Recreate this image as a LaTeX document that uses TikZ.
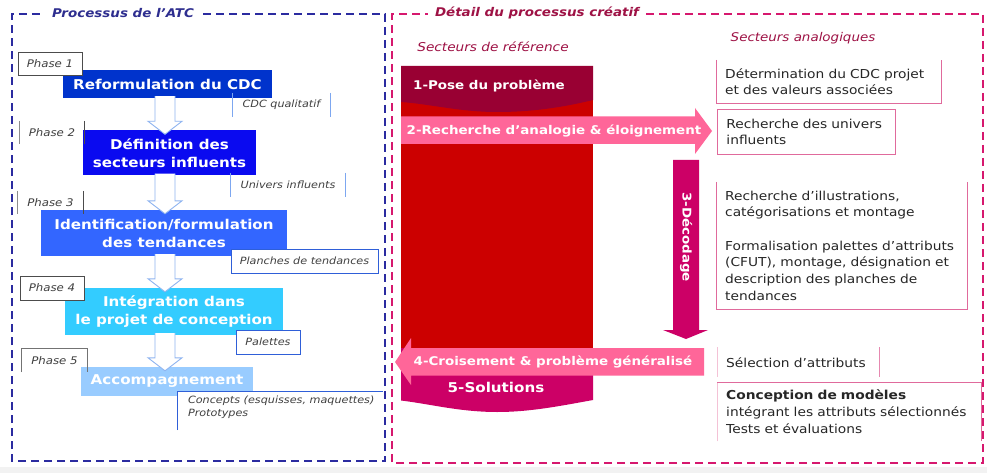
\documentclass[tikz,border=0pt]{standalone}
\usepackage{fontspec}
\setmainfont[FakeStretch=1.12]{DejaVu Sans}
\usetikzlibrary{calc}
\definecolor{atcnavy}{HTML}{2E2E8F}
\definecolor{atcborder}{HTML}{2B2BA0}
\definecolor{crebord}{HTML}{D6186E}
\definecolor{cretitle}{HTML}{9E1245}
\definecolor{cblue1}{HTML}{0033CC}
\definecolor{cblue2}{HTML}{0A0AF0}
\definecolor{cblue3}{HTML}{3366FF}
\definecolor{cblue4}{HTML}{33CCFF}
\definecolor{cblue5}{HTML}{99CCFF}
\definecolor{lblline}{HTML}{7DA7F0}
\definecolor{lblbox}{HTML}{2F5FD8}
\definecolor{hollow}{HTML}{8FB4F0}
\definecolor{cred}{HTML}{CC0000}
\definecolor{ccrim}{HTML}{990033}
\definecolor{cmag}{HTML}{CC0066}
\definecolor{cpink}{HTML}{FF6699}
\definecolor{rline}{HTML}{E06A9C}
\definecolor{rlight}{HTML}{F4C2D6}
\tikzset{
  phasetxt/.style={font=\itshape\fontsize{10.5}{12}\selectfont, text=black!75, inner sep=0pt},
  boxtitle/.style={font=\bfseries\fontsize{13.5}{18}\selectfont, text=white, align=center, inner sep=0pt},
  lbltxt/.style={font=\itshape\fontsize{10}{12.5}\selectfont, text=black!75, inner sep=0pt},
  arrtxt/.style={font=\bfseries\fontsize{12}{14}\selectfont, text=white, inner sep=0pt},
  rbox/.style={font=\fontsize{12.3}{16.7}\selectfont, text=black!85, align=left, anchor=north west, inner xsep=9pt, inner ysep=0pt},
  hollowarrow/.style={fill=white, draw=hollow, line width=0.9pt, line join=miter},
  dashborder/.style={line width=2.3pt, dash pattern=on 8pt off 5pt},
}
\newcommand\harrow[2]{%
  \draw[hollowarrow] ($(ax |- #1.south)+(-10,-2)$) -- ($(ax |- #2.north)+(-10,-9)$)
     -- ($(ax |- #2.north)+(-17,-9)$) -- ($(ax |- #2.north)+(0,4)$)
     -- ($(ax |- #2.north)+(17,-9)$) -- ($(ax |- #2.north)+(10,-9)$)
     -- ($(ax |- #1.south)+(10,-2)$);}
\begin{document}
\begin{tikzpicture}[x=1pt,y=-1pt]
\useasboundingbox (0,0) rectangle (987,473);
\fill[white] (0,0) rectangle (987,473);
\fill[black!5] (0,467) rectangle (987,473);

% ---------------- Left: Processus de l'ATC ----------------
\node[font=\bfseries\itshape\fontsize{12}{14}\selectfont, text=atcnavy, inner sep=0pt] (t1) at (123,13) {Processus de l’ATC};
\draw[atcborder, dashborder] (203,14) -- (385,14) -- (385,461) -- (12,461) -- (12,14) -- (44,14);

\coordinate (ax) at (165,0);

% main boxes
\node[fill=cblue1, minimum width=209, minimum height=28, inner sep=0pt] (b1) at (167.5,84) {};
\node[boxtitle] (b1t) at (b1) {Reformulation du CDC};
\node[fill=cblue2, minimum width=173, minimum height=45, inner sep=0pt] (b2) at (169.5,153) {};
\node[boxtitle] (b2t) at (b2) {Définition des\\secteurs influents};
\node[fill=cblue3, minimum width=246, minimum height=46, inner sep=0pt] (b3) at (164,233) {};
\node[boxtitle] (b3t) at (b3) {Identification/formulation\\des tendances};
\node[fill=cblue4, minimum width=218, minimum height=47, inner sep=0pt] (b4) at (174,311.5) {};
\node[boxtitle] (b4t) at (b4) {Intégration dans\\le projet de conception};
\node[fill=cblue5, minimum width=172, minimum height=29, inner sep=0pt] (b5) at (167,381.5) {};
\node[boxtitle] (b5t) at (b5) {Accompagnement};

% hollow arrows
\harrow{b1}{b2}
\harrow{b2}{b3}
\harrow{b3}{b4}
\harrow{b4}{b5}

% phase labels
\node[draw=black!70, fill=white, line width=0.8pt, minimum width=64, minimum height=23, inner sep=0pt] (p1) at (50,63.5) {};
\node[phasetxt] at (p1) {Phase 1};
\node[minimum width=64, minimum height=23, inner sep=0pt] (p2) at (52,132.5) {};
\draw[black!45, line width=0.9pt] (p2.north west) -- (p2.south west);
\draw[black!70, line width=0.9pt] (p2.north east) -- (p2.south east);
\node[phasetxt] at (p2) {Phase 2};
\node[minimum width=65, minimum height=23, inner sep=0pt] (p3) at (50.5,202.5) {};
\draw[black!45, line width=0.9pt] (p3.north west) -- (p3.south west);
\draw[black!70, line width=0.9pt] (p3.north east) -- (p3.south east);
\node[phasetxt] at (p3) {Phase 3};
\node[draw=black!70, fill=white, line width=0.8pt, minimum width=64, minimum height=24, inner sep=0pt] (p4) at (52,288) {};
\node[phasetxt] at (p4) {Phase 4};
\node[minimum width=65, minimum height=23, inner sep=0pt] (p5) at (54.5,360.5) {};
\draw[black!55, line width=0.9pt] (p5.south west) -- (p5.north west) -- (p5.north east) -- (p5.south east);
\node[phasetxt] at (p5) {Phase 5};

% output labels
\node[minimum width=97, minimum height=24, inner sep=0pt] (o1) at (281.5,105) {};
\draw[lblline, line width=0.9pt] (o1.north west) -- (o1.south west) (o1.north east) -- (o1.south east);
\node[lbltxt] at (o1) {CDC qualitatif};
\node[minimum width=114, minimum height=24, inner sep=0pt] (o2) at (288,185) {};
\draw[lblline, line width=0.9pt] (o2.north west) -- (o2.south west) (o2.north east) -- (o2.south east);
\node[lbltxt] at (o2) {Univers influents};
\node[draw=lblbox, fill=white, line width=0.9pt, minimum width=147, minimum height=24, inner sep=0pt] (o3) at (304.5,261) {};
\node[lbltxt] at (o3) {Planches de tendances};
\node[draw=lblbox, fill=white, line width=0.9pt, minimum width=64, minimum height=24, inner sep=0pt] (o4) at (268,342) {};
\node[lbltxt] at (o4) {Palettes};
\node[minimum width=205, minimum height=38, inner sep=0pt] (o5) at (280.5,411) {};
\fill[white] (o5.north west) rectangle (o5.south east);
\draw[lblbox, line width=0.9pt] (o5.south west) -- (o5.north west) -- (o5.north east);
\node[lbltxt, align=left, anchor=north west] at ($(o5.north west)+(10,4)$) {Concepts (esquisses, maquettes)\\Prototypes};

% ---------------- Right: Détail du processus créatif ----------------
\node[font=\bfseries\itshape\fontsize{12}{14}\selectfont, text=cretitle, inner sep=0pt] (t2) at (537,13) {Détail du processus créatif};
\draw[crebord, dashborder] (646,14) -- (983,14) -- (983,463) -- (392,463) -- (392,14) -- (428,14);

\node[font=\itshape\fontsize{12.2}{14}\selectfont, text=cretitle, inner sep=0pt] (s1) at (493,47) {Secteurs de référence};
\node[font=\itshape\fontsize{12}{14}\selectfont, text=cretitle, inner sep=0pt] (s2) at (803,38) {Secteurs analogiques};

% big column
\fill[cred] (401,66) rectangle (593,350);
\fill[ccrim] (401,66) -- (593,66) -- (593,100) .. controls (560,108) and (530,112) .. (497,112) .. controls (460,112) and (430,104) .. (401,102) -- cycle;
\node[arrtxt] (c1) at (489,86) {1-Pose du problème};
\fill[cmag] (401,348) -- (593,348) -- (593,400) .. controls (560,406) and (530,412) .. (497,412) .. controls (460,412) and (430,404) .. (401,400.5) -- cycle;
\node[arrtxt, font=\bfseries\fontsize{13.5}{16}\selectfont] (c5) at (496,387) {5-Solutions};

% arrow 2
\fill[cpink] (401,116.5) -- (695,116.5) -- (695,108) -- (712,131) -- (695,154) -- (695,144) -- (401,144) -- cycle;
\node[arrtxt] (c2) at (554,130.5) {2-Recherche d’analogie \& éloignement};

% arrow 3
\fill[cmag] (673,160) -- (699,160) -- (699,330) -- (708,330) -- (686,339) -- (663,330) -- (673,330) -- cycle;
\node[arrtxt, rotate=-90] (c3) at (686,237) {3-Décodage};

% arrow 4
\fill[cpink] (704,348) -- (411,348) -- (411,338) -- (395,362) -- (411,385) -- (411,375.5) -- (704,375.5) -- cycle;
\node[arrtxt] (c4) at (553,362) {4-Croisement \& problème généralisé};

% right boxes
\node[rbox, text width=207, minimum height=43] (r1) at (716,60) {Détermination du CDC projet\\et des valeurs associées};
\draw[rline, line width=0.9pt] (r1.north west) -- (r1.south west) -- (r1.south east) -- (r1.north east);
\node[rbox, text width=160, minimum height=45, draw=rline, line width=0.9pt] (r2) at (717,109) {Recherche des univers\\influents};
\node[rbox, text width=233, minimum height=127] (r3) at (716,182) {Recherche d’illustrations,\\catégorisations et montage\\[16.7pt]Formalisation palettes d’attributs\\(CFUT), montage, désignation et\\description des planches de\\tendances};
\draw[rline, line width=0.9pt] (r3.north west) -- (r3.south west) -- (r3.south east) -- (r3.north east);
\node[rbox, text width=144, minimum height=30] (r4) at (717,347) {Sélection d’attributs};
\draw[rlight, line width=0.9pt] (r4.north west) -- (r4.south west);
\draw[rline!80, line width=0.9pt] (r4.north east) -- (r4.south east);
\node[rbox, text width=246, minimum height=59] (r5) at (717,382) {\textbf{Conception de modèles}\\intégrant les attributs sélectionnés\\Tests et évaluations};
\draw[rlight, line width=0.9pt] (r5.south west) -- (r5.north west);
\draw[rline, line width=0.9pt] (r5.north west) -- (r5.north east) -- (r5.south east);
\end{tikzpicture}
\end{document}
